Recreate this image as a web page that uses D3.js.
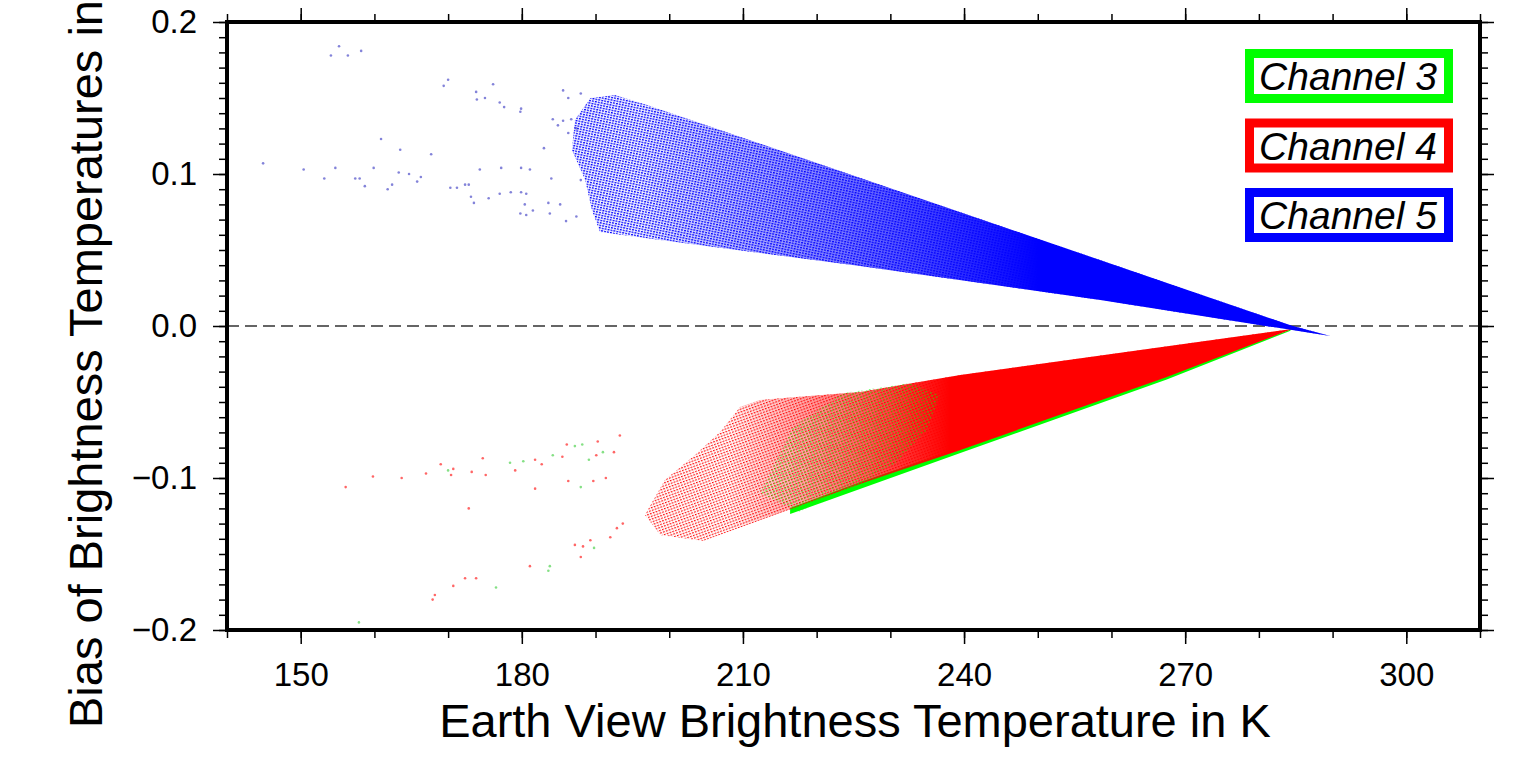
<!DOCTYPE html>
<html>
<head>
<meta charset="utf-8">
<script src="https://cdn.jsdelivr.net/npm/d3@7"></script>
<style>
  body { margin: 0; background: #fff; }
  svg { display: block; font-family: "Liberation Sans", Arial, Helvetica, sans-serif; }
</style>
</head>
<body>
<div id="chart"></div>
<script>

//----------------------------
// Data
//----------------------------

var xMajor = [150, 180, 210, 240, 270, 300],
	yMajor = [-0.2, -0.1, 0.0, 0.1, 0.2];

var channels = ["Channel 3", "Channel 4", "Channel 5"],
	chColors = ["#00ff00", "#ff0000", "#0000ff"];

// envelopes of the dense point clouds [T in K, bias]
var ch5Envelope = [[197.0, 0.1454], [284.6, 0.0], [289.7, -0.0066], [258.5, 0.0171], [225.9, 0.0395],
	[198.8, 0.0566], [190.6, 0.0618], [189.5, 0.0763], [188.6, 0.0961], [186.8, 0.1158],
	[187.2, 0.1355], [189.3, 0.150], [192.6, 0.152]];

var ch4Envelope = [[209.6, -0.0533], [212.3, -0.0487], [225.9, -0.0434], [239.5, -0.0322],
	[284.5, -0.002], [267.5, -0.0336], [239.5, -0.0816], [225.9, -0.1039], [204.6, -0.1414],
	[198.8, -0.1375], [196.7, -0.1243], [199.4, -0.1013], [203.5, -0.0849], [206.9, -0.0697]];

// channel 3 lies just under channel 4, only its lower rim shows
var ch3Envelope = [[216.4, -0.1237], [239.5, -0.0836], [267.5, -0.0352], [284.2, -0.0033],
	[284.5, -0.002], [267.5, -0.0322], [239.5, -0.0803], [225.9, -0.1026], [216.4, -0.1197]];

// part of channel 3 that shows through channel 4
var ch3Band = [[212.3, -0.1099], [216.8, -0.0664], [223.6, -0.0441], [232.7, -0.0375], [236.7, -0.0454],
	[235.0, -0.0684], [230.4, -0.0914], [223.2, -0.1112], [217.7, -0.1224]];

// scattered points outside the clouds
var ch5Points = [[154.1, 0.178], [155.2, 0.184], [156.4, 0.178], [158.2, 0.181], [170.0, 0.162], [169.4, 0.158],
	[176.1, 0.159], [173.8, 0.154], [173.9, 0.149], [175.0, 0.150], [177.0, 0.147], [177.6, 0.144],
	[179.9, 0.143], [179.8, 0.141], [160.9, 0.123], [163.5, 0.116], [167.7, 0.113], [144.9, 0.107],
	[150.4, 0.103], [154.7, 0.104], [153.2, 0.097], [157.4, 0.097], [158.0, 0.097], [158.7, 0.092],
	[159.9, 0.104], [163.3, 0.101], [164.7, 0.100], [166.3, 0.098], [165.8, 0.095], [162.4, 0.093],
	[161.8, 0.090], [170.3, 0.091], [171.2, 0.091], [172.3, 0.093], [172.8, 0.093], [174.3, 0.103],
	[177.2, 0.104], [179.9, 0.104], [181.1, 0.103], [183.0, 0.117], [184.0, 0.097], [173.1, 0.085],
	[173.5, 0.081], [175.5, 0.084], [177.0, 0.087], [178.5, 0.088], [179.9, 0.088], [180.6, 0.087],
	[180.4, 0.080], [179.8, 0.074], [180.6, 0.073], [181.5, 0.076], [183.6, 0.081], [183.8, 0.074],
	[185.2, 0.080], [186.0, 0.069], [187.4, 0.072], [188.0, 0.096], [185.6, 0.155], [186.3, 0.150],
	[188.0, 0.153], [184.2, 0.136], [184.9, 0.132], [185.6, 0.135], [186.7, 0.136], [187.4, 0.130],
	[186.3, 0.127]];

var ch4Points = [[156.1, -0.106], [159.8, -0.099], [163.7, -0.100], [167.0, -0.097], [169.0, -0.091],
	[170.4, -0.098], [170.7, -0.094], [173.2, -0.096], [174.7, -0.087], [175.1, -0.098], [179.1, -0.095],
	[181.8, -0.088], [182.7, -0.091], [181.8, -0.107], [185.5, -0.086], [186.1, -0.078], [186.3, -0.102],
	[190.1, -0.085], [190.3, -0.076], [189.7, -0.102], [191.4, -0.100], [192.5, -0.083], [193.3, -0.072],
	[172.8, -0.120], [192.0, -0.139], [192.9, -0.133], [193.7, -0.130], [189.3, -0.141], [188.3, -0.145],
	[187.2, -0.144], [188.0, -0.152], [181.1, -0.158], [172.3, -0.166], [173.8, -0.166], [170.7, -0.171],
	[168.2, -0.177], [167.9, -0.180]];

var ch3Points = [[170.0, -0.095], [178.4, -0.090], [180.2, -0.089], [184.2, -0.085], [187.2, -0.079],
	[188.2, -0.078], [188.0, -0.106], [189.1, -0.088], [191.0, -0.083], [189.8, -0.146], [183.8, -0.158],
	[183.6, -0.161], [176.5, -0.172], [157.9, -0.195]];

//----------------------------
// Layout
//----------------------------

var totwidth = 1521,
	totheight = 764,
	plotLeft = 227,
	plotRight = 1480,
	plotTop = 22,
	plotBottom = 630;

var svg = d3.select("#chart").append("svg")
	.attr("width", totwidth)
	.attr("height", totheight);

var x = d3.scaleLinear().domain([140, 310]).range([plotLeft, plotRight]);
var y = d3.scaleLinear().domain([-0.2, 0.2]).range([plotBottom, plotTop]);

var defs = svg.append("defs");

defs.append("clipPath").attr("id", "plotclip")
	.append("rect")
	.attr("x", plotLeft).attr("y", plotTop)
	.attr("width", plotRight - plotLeft).attr("height", plotBottom - plotTop);

// dot textures for the sparse left ends of the clouds

function dotPattern(id, color, w, h, dw, dh, angle) {
	var p = defs.append("pattern")
		.attr("id", id)
		.attr("patternUnits", "userSpaceOnUse")
		.attr("width", w)
		.attr("height", h)
		.attr("patternTransform", "rotate(" + angle + ")");
	p.append("rect").attr("width", dw).attr("height", dh).attr("fill", color);
}
dotPattern("dots5", chColors[2], 3, 2.5, 1.9, 1.3, 12);
dotPattern("dots4", chColors[1], 3, 2.7, 1.7, 1.2, -20);
dotPattern("dots3", chColors[0], 3.6, 3.2, 1.6, 1.3, -25);

function fadeGradient(id, color, t0, t1, o0) {
	var g = defs.append("linearGradient")
		.attr("id", id)
		.attr("gradientUnits", "userSpaceOnUse")
		.attr("x1", x(t0)).attr("x2", x(t1))
		.attr("y1", 0).attr("y2", 0);
	g.append("stop").attr("offset", 0).attr("stop-color", color).attr("stop-opacity", o0);
	g.append("stop").attr("offset", 1).attr("stop-color", color).attr("stop-opacity", 1);
}
fadeGradient("fade5", chColors[2], 196, 250, 0.05);
fadeGradient("fade4", chColors[1], 208, 238, 0.0);

var outline = d3.line()
	.x(function(d) { return x(d[0]); })
	.y(function(d) { return y(d[1]); })
	.curve(d3.curveLinearClosed);

var marks = svg.append("g").attr("clip-path", "url(#plotclip)");

// dashed zero line
marks.append("line")
	.attr("x1", plotLeft).attr("x2", plotRight)
	.attr("y1", y(0)).attr("y2", y(0))
	.attr("stroke", "#333")
	.attr("stroke-width", 1.6)
	.attr("stroke-dasharray", "12,6");

// channel 3 (under channel 4)
marks.append("path").attr("d", outline(ch3Envelope)).attr("fill", chColors[0]);

// channel 4
marks.append("path").attr("d", outline(ch4Envelope)).attr("fill", "url(#dots4)");
marks.append("path").attr("d", outline(ch4Envelope)).attr("fill", "url(#fade4)");

// channel 3 showing through
marks.append("path").attr("d", outline(ch3Band)).attr("fill", "url(#dots3)").attr("opacity", 0.6);

// channel 5
marks.append("path").attr("d", outline(ch5Envelope)).attr("fill", "url(#dots5)");
marks.append("path").attr("d", outline(ch5Envelope)).attr("fill", "url(#fade5)");

// scattered points
function scatter(data, color) {
	marks.append("g")
		.selectAll("circle").data(data).enter().append("circle")
		.attr("cx", function(d) { return x(d[0]); })
		.attr("cy", function(d) { return y(d[1]); })
		.attr("r", 1.3)
		.attr("fill", color)
		.attr("opacity", 0.6);
}
scatter(ch3Points, "#33cc33");
scatter(ch4Points, chColors[1]);
scatter(ch5Points, "#3030c0");

//----------------------------
// Axes and frame
//----------------------------

var xMinor = d3.range(140, 311, 10),
	yMinor = d3.range(-20, 21).map(function(d) { return d / 100; });

function styleAxis(g) {
	g.select(".domain").remove();
	g.selectAll(".tick line").attr("stroke", "#000").attr("stroke-width", 1.5);
	g.selectAll(".tick text").attr("fill", "#000").style("font-size", "33px")
		.style("font-family", "'Liberation Sans', Arial, Helvetica, sans-serif");
}

var yFmt = function(d) { return d3.format(".1f")(d); };

svg.append("g").attr("transform", "translate(0," + plotBottom + ")")
	.call(d3.axisBottom(x).tickValues(xMinor).tickSize(8).tickFormat("")).call(styleAxis);
svg.append("g").attr("transform", "translate(0," + plotBottom + ")")
	.call(d3.axisBottom(x).tickValues(xMajor).tickSize(14).tickPadding(19).tickFormat(d3.format("d"))).call(styleAxis);
svg.append("g").attr("transform", "translate(0," + plotTop + ")")
	.call(d3.axisTop(x).tickValues(xMinor).tickSize(8).tickFormat("")).call(styleAxis);
svg.append("g").attr("transform", "translate(0," + plotTop + ")")
	.call(d3.axisTop(x).tickValues(xMajor).tickSize(14).tickFormat("")).call(styleAxis);

svg.append("g").attr("transform", "translate(" + plotLeft + ",0)")
	.call(d3.axisLeft(y).tickValues(yMinor).tickSize(8).tickFormat("")).call(styleAxis);
svg.append("g").attr("transform", "translate(" + plotLeft + ",0)")
	.call(d3.axisLeft(y).tickValues(yMajor).tickSize(14).tickPadding(16).tickFormat(yFmt)).call(styleAxis);
svg.append("g").attr("transform", "translate(" + plotRight + ",0)")
	.call(d3.axisRight(y).tickValues(yMinor).tickSize(8).tickFormat("")).call(styleAxis);
svg.append("g").attr("transform", "translate(" + plotRight + ",0)")
	.call(d3.axisRight(y).tickValues(yMajor).tickSize(14).tickFormat("")).call(styleAxis);

svg.append("rect")
	.attr("x", plotLeft).attr("y", plotTop)
	.attr("width", plotRight - plotLeft).attr("height", plotBottom - plotTop)
	.attr("fill", "none")
	.attr("stroke", "#000")
	.attr("stroke-width", 4);

// axis titles

svg.append("text")
	.attr("x", 855)
	.attr("y", 737)
	.attr("text-anchor", "middle")
	.style("font-size", "47px")
	.text("Earth View Brightness Temperature in K");

// the title runs past the top edge, as in the original figure
svg.append("text")
	.attr("transform", "translate(102,728) rotate(-90)")
	.attr("text-anchor", "start")
	.style("font-size", "47px")
	.text("Bias of Brightness Temperatures in K");

//----------------------------
// Legend
//----------------------------

var legend = svg.append("g").attr("class", "legend");

legend.selectAll("rect").data(channels).enter().append("rect")
	.attr("x", 1249.5)
	.attr("y", function(d, i) { return 53.5 + i * 69.5; })
	.attr("width", 199)
	.attr("height", 45)
	.attr("fill", "#fff")
	.attr("stroke", function(d, i) { return chColors[i]; })
	.attr("stroke-width", 9);

legend.selectAll("text").data(channels).enter().append("text")
	.attr("x", 1348)
	.attr("y", function(d, i) { return 90 + i * 69.5; })
	.attr("text-anchor", "middle")
	.style("font-size", "39px")
	.style("font-style", "italic")
	.text(function(d) { return d; });

</script>
</body>
</html>
